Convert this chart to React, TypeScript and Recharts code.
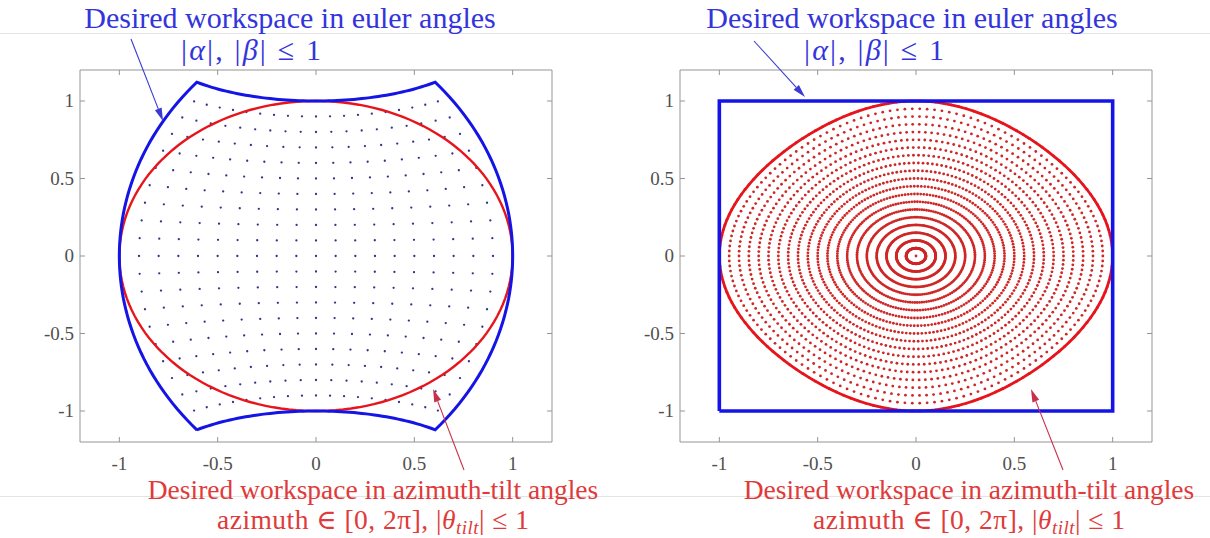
import React from 'react';
import { ScatterChart, Scatter, XAxis, YAxis, ReferenceArea } from 'recharts';

// axis ticks / limits (rad), same on both panels
const AXIS_TICKS = [-1, -0.5, 0, 0.5, 1];
const AXIS_LIMITS = [-1.2, 1.2];

// euler sample grid (rad), used for alpha and beta
const EULER_GRID = [-1, -0.9, -0.8, -0.7, -0.6, -0.5, -0.4, -0.3, -0.2, -0.1, 0, 0.1, 0.2, 0.3, 0.4, 0.5, 0.6, 0.7, 0.8, 0.9, 1];
// corners of |alpha|, |beta| <= 1 as [alpha, beta], walked in order
const EULER_CORNERS = [[-1, -1], [1, -1], [1, 1], [-1, 1]];
const EDGE_SAMPLES = 60;

// tilt rings (rad) of the azimuth-tilt sample grid
const TILT_RINGS = [0.05, 0.1, 0.15, 0.2, 0.25, 0.3, 0.35, 0.4, 0.45, 0.5, 0.55, 0.6, 0.65, 0.7, 0.75, 0.8, 0.85, 0.9, 0.95, 1];
const TILT_LIMIT = 1;
const AZIMUTH_SAMPLES = 158;

const BLUE = '#1414e6';
const RED = '#e8141c';
const BLUE_TEXT = '#3434dc';
const RED_TEXT = '#e03a3a';
const AXIS_GREY = '#959595';
const LABEL_GREY = '#505050';
const FONT = '"Liberation Serif", "DejaVu Serif", serif';

const CHART_H = 538;
const PLOT_TOP = 70;
const PLOT_H = 372;
const PLOT_W = 472;
const TICK_GAP = 10;
const TICK_LEN = 5;

type Pt = { x: number; y: number };

// (alpha, beta) -> tilt * (cos az, sin az)
function eulerToTilt(alpha: number, beta: number): Pt {
  const vx = Math.sin(beta) * Math.cos(alpha);
  const vy = Math.sin(alpha);
  const vz = Math.cos(alpha) * Math.cos(beta);
  const tilt = Math.acos(Math.min(1, vz));
  const s = Math.hypot(vx, vy);
  if (s < 1e-12) return { x: 0, y: 0 };
  return { x: (tilt * vx) / s, y: (tilt * vy) / s };
}

// (tilt, azimuth) -> (beta, alpha)
function tiltToEuler(tilt: number, az: number): Pt {
  const alpha = Math.asin(Math.sin(tilt) * Math.sin(az));
  const beta = tilt * Math.cos(az);
  return { x: beta, y: alpha };
}

const azimuths = Array.from({ length: AZIMUTH_SAMPLES }, (_, i) => (2 * Math.PI * i) / AZIMUTH_SAMPLES);
const closedAzimuths = [...azimuths, 2 * Math.PI];

// left panel: tilt plane
const eulerDots: Pt[] = [];
EULER_GRID.forEach((a) => EULER_GRID.forEach((b) => eulerDots.push(eulerToTilt(a, b))));

const eulerBoundary: Pt[] = [];
EULER_CORNERS.forEach((c, i) => {
  const n = EULER_CORNERS[(i + 1) % EULER_CORNERS.length];
  for (let k = 0; k <= EDGE_SAMPLES; k++) {
    const t = k / EDGE_SAMPLES;
    eulerBoundary.push(eulerToTilt(c[0] + (n[0] - c[0]) * t, c[1] + (n[1] - c[1]) * t));
  }
});

const tiltCircle: Pt[] = closedAzimuths.map((az) => ({ x: TILT_LIMIT * Math.cos(az), y: TILT_LIMIT * Math.sin(az) }));

// right panel: euler plane
const eulerSquare: Pt[] = [...EULER_CORNERS, EULER_CORNERS[0]].map(([a, b]) => ({ x: b, y: a }));

const tiltDots: Pt[] = [{ x: 0, y: 0 }];
TILT_RINGS.forEach((r) => azimuths.forEach((az) => tiltDots.push(tiltToEuler(r, az))));

const tiltBoundary: Pt[] = closedAzimuths.map((az) => tiltToEuler(TILT_LIMIT, az));

const NoMark = () => <g />;

const BlueDot = (p: any) => <circle cx={p.cx} cy={p.cy} r={1.15} fill="#33338c" />;
const RedDot = (p: any) => <circle cx={p.cx} cy={p.cy} r={1.4} fill="#cf2626" />;

const fmt = (v: number) => String(v);

// matlab-style inward ticks on all four sides
function BottomTick(props: any) {
  const { x, y, payload } = props;
  const y0 = y - TICK_GAP;
  return (
    <g>
      <line x1={x} y1={y0} x2={x} y2={y0 - TICK_LEN} stroke={AXIS_GREY} />
      <line x1={x} y1={y0 - PLOT_H} x2={x} y2={y0 - PLOT_H + TICK_LEN} stroke={AXIS_GREY} />
      <text x={x} y={y0 + 28} textAnchor="middle" fontSize={19} fontFamily={FONT} fill={LABEL_GREY}>
        {fmt(payload.value)}
      </text>
    </g>
  );
}

function LeftTick(props: any) {
  const { x, y, payload } = props;
  const x0 = x + TICK_GAP;
  return (
    <g>
      <line x1={x0} y1={y} x2={x0 + TICK_LEN} y2={y} stroke={AXIS_GREY} />
      <line x1={x0 + PLOT_W} y1={y} x2={x0 + PLOT_W - TICK_LEN} y2={y} stroke={AXIS_GREY} />
      <text x={x0 - 6} y={y + 6} textAnchor="end" fontSize={19} fontFamily={FONT} fill={LABEL_GREY}>
        {fmt(payload.value)}
      </text>
    </g>
  );
}

function Panel({ left, width, children }: { left: number; width: number; children: React.ReactNode }) {
  const marginLeft = 40;
  return (
    <div style={{ position: 'absolute', left: left, top: 0 }}>
      <ScatterChart
        width={width}
        height={CHART_H}
        margin={{ top: PLOT_TOP, left: marginLeft, right: width - 40 - marginLeft - PLOT_W, bottom: CHART_H - PLOT_TOP - PLOT_H - 30 }}
      >
        <XAxis
          type="number"
          dataKey="x"
          domain={AXIS_LIMITS}
          ticks={AXIS_TICKS}
          interval={0}
          allowDataOverflow
          axisLine={false}
          tickLine={false}
          tickSize={0}
          tickMargin={TICK_GAP}
          tick={BottomTick}
          height={30}
        />
        <YAxis
          type="number"
          dataKey="y"
          domain={AXIS_LIMITS}
          ticks={AXIS_TICKS}
          interval={0}
          allowDataOverflow
          axisLine={false}
          tickLine={false}
          tickSize={0}
          tickMargin={TICK_GAP}
          tick={LeftTick}
          width={40}
        />
        <ReferenceArea
          x1={AXIS_LIMITS[0]}
          x2={AXIS_LIMITS[1]}
          y1={AXIS_LIMITS[0]}
          y2={AXIS_LIMITS[1]}
          fill="none"
          fillOpacity={0}
          stroke={AXIS_GREY}
          strokeOpacity={1}
          strokeWidth={1}
        />
        {children}
      </ScatterChart>
    </div>
  );
}

function Arrow({ x1, y1, x2, y2, color }: { x1: number; y1: number; x2: number; y2: number; color: string }) {
  const len = Math.hypot(x2 - x1, y2 - y1);
  const ux = (x2 - x1) / len;
  const uy = (y2 - y1) / len;
  const hl = 13;
  const hw = 3.6;
  const bx = x2 - ux * hl;
  const by = y2 - uy * hl;
  const pts = `${x2},${y2} ${bx - uy * hw},${by + ux * hw} ${bx + uy * hw},${by - ux * hw}`;
  return (
    <g>
      <line x1={x1} y1={y1} x2={bx} y2={by} stroke={color} strokeWidth={1.1} />
      <polygon points={pts} fill={color} />
    </g>
  );
}

function EulerCaption({ cx1, cx2 }: { cx1: number; cx2: number }) {
  return (
    <g fill={BLUE_TEXT} fontFamily={FONT}>
      <text x={cx1} y={28} textAnchor="middle" fontSize={30}>
        Desired workspace in euler angles
      </text>
      <text x={cx2} y={60} textAnchor="middle" fontSize={30} textLength={140} lengthAdjust="spacing">
        |<tspan fontStyle="italic">α</tspan>|, |<tspan fontStyle="italic">β</tspan>| ≤ 1
      </text>
    </g>
  );
}

function TiltCaption({ cx }: { cx: number }) {
  return (
    <g fill={RED_TEXT} fontFamily={FONT}>
      <text x={cx} y={499} textAnchor="middle" fontSize={27.5}>
        Desired workspace in azimuth-tilt angles
      </text>
      <text x={cx} y={529} textAnchor="middle" fontSize={27.5} textLength={312} lengthAdjust="spacing">
        azimuth ∈ [0, 2π], |<tspan fontStyle="italic">θ</tspan>
        <tspan fontStyle="italic" fontSize={19} dy={5}>tilt</tspan>
        <tspan dy={-5}>| ≤ 1</tspan>
      </text>
    </g>
  );
}

export default function App() {
  return (
    <div style={{ position: 'absolute', left: 0, top: 0, width: 1210, height: 538, background: '#fff', overflow: 'hidden' }}>
      <svg width={1210} height={538} style={{ position: 'absolute', left: 0, top: 0 }}>
        <line x1={0} y1={33.5} x2={1210} y2={33.5} stroke="#e4e4e4" />
        <line x1={0} y1={496.5} x2={1210} y2={496.5} stroke="#e4e4e4" />
      </svg>

      <Panel left={0} width={600}>
        <Scatter data={eulerDots} shape={BlueDot} isAnimationActive={false} />
        <Scatter data={tiltCircle} shape={NoMark} line={{ stroke: RED, strokeWidth: 2.4 }} lineType="joint" isAnimationActive={false} />
        <Scatter data={eulerBoundary} shape={NoMark} line={{ stroke: BLUE, strokeWidth: 3, strokeLinejoin: 'miter' }} lineType="joint" isAnimationActive={false} />
      </Panel>

      <Panel left={600} width={610}>
        <Scatter data={tiltDots} shape={RedDot} isAnimationActive={false} />
        <Scatter data={tiltBoundary} shape={NoMark} line={{ stroke: RED, strokeWidth: 2.8 }} lineType="joint" isAnimationActive={false} />
        <Scatter data={eulerSquare} shape={NoMark} line={{ stroke: BLUE, strokeWidth: 3.6 }} lineType="joint" isAnimationActive={false} />
      </Panel>

      <svg width={1210} height={538} style={{ position: 'absolute', left: 0, top: 0, pointerEvents: 'none' }}>
        <EulerCaption cx1={290} cx2={251} />
        <EulerCaption cx1={912} cx2={874} />
        <TiltCaption cx={373} />
        <TiltCaption cx={969} />
        <Arrow x1={131} y1={39} x2={163} y2={121} color="#3a3ad2" />
        <Arrow x1={754} y1={41} x2={805} y2={97} color="#3a3ad2" />
        <Arrow x1={464} y1={470} x2={433} y2={389} color="#c8304a" />
        <Arrow x1={1063} y1={470} x2={1031} y2={389} color="#c8304a" />
      </svg>
    </div>
  );
}
